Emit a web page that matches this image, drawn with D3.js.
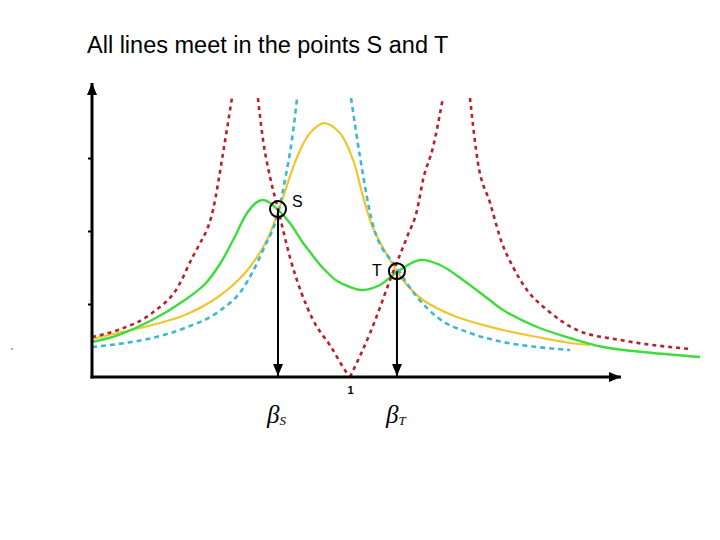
<!DOCTYPE html>
<html>
<head>
<meta charset="utf-8">
<script src="https://cdn.jsdelivr.net/npm/d3@7"></script>
<style>
  body { margin: 0; background: #fff; }
  svg { display: block; }
</style>
</head>
<body>
<svg id="chart" width="720" height="540"></svg>
<script>
// frequency ratio (beta) / amplitude pairs
// undamped curve (red dashed), three branches, the middle one split at the zero
const redLeft = [[0, 0.548], [0.101, 0.644], [0.233, 0.877], [0.333, 1.233], [0.39, 1.644], [0.411, 1.781], [0.469, 2.288], [0.508, 3.068], [0.543, 3.836]];
const redMidDown = [[0.643, 3.822], [0.663, 3.247], [0.690, 2.740], [0.721, 2.301], [0.767, 1.644], [0.857, 0.781], [0.924, 0.425], [0.988, 0.055], [1.0, 0]];
const redMidUp = [[1.0, 0], [1.078, 0.603], [1.167, 1.438], [1.221, 1.918], [1.260, 2.288], [1.283, 2.699], [1.322, 3.151], [1.360, 3.822]];
const redRight = [[1.465, 3.822], [1.496, 2.932], [1.543, 2.384], [1.589, 1.836], [1.632, 1.507], [1.686, 1.192], [1.764, 0.918], [1.880, 0.644], [2.047, 0.507], [2.240, 0.411], [2.318, 0.384]];

// infinite damping (cyan dashed)
const cyanLeft = [[0, 0.411], [0.101, 0.452], [0.233, 0.534], [0.360, 0.671], [0.488, 0.890], [0.581, 1.192], [0.663, 1.740], [0.725, 2.301], [0.748, 2.699], [0.775, 3.247], [0.795, 3.822]];
const cyanRight = [[1.004, 3.822], [1.039, 3.014], [1.089, 2.082], [1.182, 1.493], [1.260, 1.096], [1.337, 0.822], [1.465, 0.603], [1.593, 0.479], [1.725, 0.411], [1.853, 0.370]];

// low damping (yellow)
const yellowLine = [[0, 0.521], [0.101, 0.603], [0.233, 0.712], [0.360, 0.849], [0.488, 1.096], [0.593, 1.425], [0.678, 1.877], [0.725, 2.301], [0.795, 3.014], [0.845, 3.342], [0.899, 3.479], [0.961, 3.342], [1.012, 2.973], [1.050, 2.479], [1.089, 2.041], [1.155, 1.603], [1.205, 1.329], [1.283, 1.055], [1.415, 0.822], [1.593, 0.644], [1.725, 0.548], [1.853, 0.466], [1.930, 0.438]];

// optimal damping (green)
const greenLine = [[0, 0.479], [0.101, 0.575], [0.233, 0.781], [0.360, 1.055], [0.438, 1.274], [0.496, 1.548], [0.547, 1.877], [0.601, 2.247], [0.640, 2.397], [0.663, 2.425], [0.690, 2.384], [0.721, 2.288], [0.767, 2.110], [0.818, 1.836], [0.845, 1.712], [0.895, 1.493], [0.950, 1.315], [1.0, 1.233], [1.050, 1.192], [1.116, 1.260], [1.182, 1.438], [1.271, 1.603], [1.349, 1.534], [1.438, 1.329], [1.531, 1.082], [1.593, 0.918], [1.725, 0.685], [1.853, 0.534], [1.981, 0.411], [2.174, 0.329], [2.357, 0.274]];

const meetPoints = [
    { name: "S", beta: 0.721, amp: 2.30 },
    { name: "T", beta: 1.182, amp: 1.45 }
];
const yTicks = [1, 2, 3];
const xTicks = [1];
const title = "All lines meet in the points S and T";

const svg = d3.select("#chart");

let x = d3.scaleLinear().domain([0, 1]).range([92, 350]);
let y = d3.scaleLinear().domain([0, 4]).range([377, 85]);

svg.append("text")
    .attr("x", 87)
    .attr("y", 53)
    .attr("font-family", "Liberation Sans, Arial, sans-serif")
    .attr("font-size", 23.5)
    .attr("fill", "#000")
    .text(title);

// stray speck on the left of the original
svg.append("rect")
    .attr("x", 11).attr("y", 348).attr("width", 2).attr("height", 2)
    .attr("fill", "#7ccf7c");

let dashedLine = d3.line()
    .x(function(d) { return x(d[0]); })
    .y(function(d) { return y(d[1]); })
    .curve(d3.curveMonotoneX);

let smoothLine = d3.line()
    .x(function(d) { return x(d[0]); })
    .y(function(d) { return y(d[1]); })
    .curve(d3.curveCatmullRom.alpha(0.5));

function drawCurve(data, gen, color, width, dash) {
    let p = svg.append("path")
        .datum(data)
        .attr("fill", "none")
        .attr("stroke", color)
        .attr("stroke-width", width)
        .attr("stroke-linejoin", "round")
        .attr("d", gen);
    if (dash) p.attr("stroke-dasharray", dash);
    return p;
}

drawCurve(yellowLine, smoothLine, "#f0c630", 2.2);
drawCurve(greenLine, smoothLine, "#3ddc3a", 2.4);
[cyanLeft, cyanRight].forEach(function(d) {
    drawCurve(d, dashedLine, "#3cb8d4", 2.6, "5,4");
});
[redLeft, redMidDown, redMidUp, redRight].forEach(function(d) {
    drawCurve(d, dashedLine, "#b8202e", 2.6, "4,4");
});

// arrowheads
let defs = svg.append("defs");
defs.append("marker")
    .attr("id", "head")
    .attr("viewBox", "0 0 12 10")
    .attr("refX", 12).attr("refY", 5)
    .attr("markerWidth", 12).attr("markerHeight", 10)
    .attr("markerUnits", "userSpaceOnUse")
    .attr("orient", "auto")
    .append("path")
    .attr("d", "M0,0 L12,5 L0,10 Z")
    .attr("fill", "#000");

// y axis ticks
svg.append("g")
    .attr("transform", "translate(" + x(0) + ",0)")
    .call(d3.axisLeft(y).tickValues(yTicks).tickSize(4).tickFormat(""))
    .call(function(g) {
        g.select(".domain").remove();
        g.selectAll(".tick line").attr("stroke", "#000").attr("stroke-width", 2);
    });

// x axis tick label
svg.append("g")
    .attr("transform", "translate(0," + y(0) + ")")
    .call(d3.axisBottom(x).tickValues(xTicks).tickSize(0).tickPadding(9).tickFormat(d3.format("d")))
    .call(function(g) {
        g.select(".domain").remove();
        g.selectAll("text")
            .attr("font-family", "Liberation Sans, Arial, sans-serif")
            .attr("font-size", 11)
            .attr("font-weight", "bold")
            .attr("fill", "#000");
    });

// axis lines with arrows
svg.append("line")
    .attr("x1", x(0)).attr("y1", y(0) + 1.5)
    .attr("x2", x(0)).attr("y2", 83)
    .attr("stroke", "#000").attr("stroke-width", 3)
    .attr("marker-end", "url(#head)");
svg.append("line")
    .attr("x1", x(0) - 1.5).attr("y1", y(0))
    .attr("x2", 621).attr("y2", y(0))
    .attr("stroke", "#000").attr("stroke-width", 3)
    .attr("marker-end", "url(#head)");

// meeting points: circle, drop arrow, labels
meetPoints.forEach(function(p) {
    let px = x(p.beta), py = y(p.amp);
    svg.append("line")
        .attr("x1", px).attr("y1", py)
        .attr("x2", px).attr("y2", y(0) - 1)
        .attr("stroke", "#000").attr("stroke-width", 2)
        .attr("marker-end", "url(#head)");
    svg.append("circle")
        .attr("cx", px).attr("cy", py).attr("r", 8)
        .attr("fill", "none")
        .attr("stroke", "#000").attr("stroke-width", 2);

    let lbl = svg.append("text")
        .attr("font-family", "Liberation Sans, Arial, sans-serif")
        .attr("font-size", 16)
        .attr("fill", "#000")
        .text(p.name);
    if (p.name === "S") {
        lbl.attr("x", px + 14).attr("y", py - 2);
    } else {
        lbl.attr("x", px - 25).attr("y", py + 5);
    }

    let beta = svg.append("text")
        .attr("x", px - 11)
        .attr("y", 423)
        .attr("font-family", "Liberation Serif, Times New Roman, serif")
        .attr("font-style", "italic")
        .attr("font-size", 25)
        .attr("fill", "#000");
    beta.append("tspan").text("\u03B2");
    beta.append("tspan")
        .attr("font-size", 13)
        .attr("dy", 2)
        .text(p.name);
});
</script>
</body>
</html>
